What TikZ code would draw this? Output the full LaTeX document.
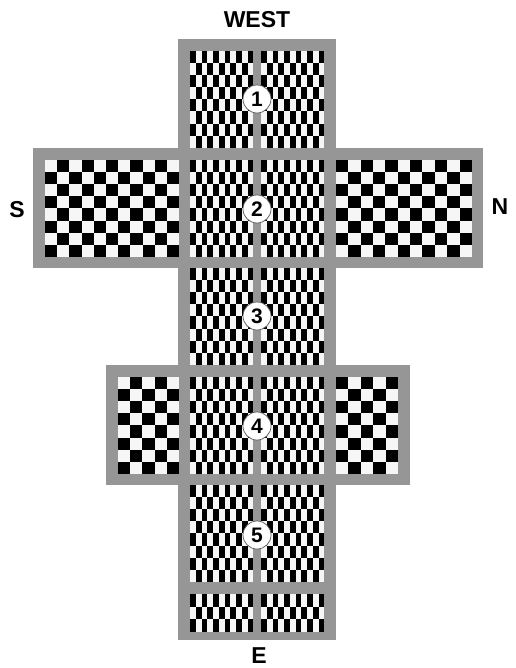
\documentclass[tikz,border=0pt]{standalone}
\usepackage{fontspec}
\setsansfont{Liberation Sans}
\usetikzlibrary{positioning}

\definecolor{framegray}{RGB}{150,150,150}
\definecolor{cellwhite}{RGB}{246,246,246}

% x0, y0, columns, rows, cell width, cell height, phase (0 = black first)
\newcommand{\checkerblock}[7]{%
  \fill[cellwhite] (#1,#2) rectangle ++(#3*#5,#4*#6);
  \foreach \i in {1,...,#3}{
    \foreach \j in {1,...,#4}{
      \pgfmathtruncatemacro\cellpar{mod(\i+\j+#7,2)}
      \ifnum\cellpar=0 \fill[black] (#1+\i*#5-#5,#2+\j*#6-#6) rectangle ++(#5,#6);\fi
    }}}

\begin{document}
\begin{tikzpicture}[
  x=1pt, y=-1pt,
  frame/.style={fill=framegray},
  num/.style={circle, draw=black!65, line width=0.7pt, fill=white,
    inner sep=0pt, minimum size=28pt, font=\sffamily\bfseries\fontsize{21}{21}\selectfont},
  dir/.style={inner sep=0pt, font=\sffamily\bfseries\fontsize{23}{23}\selectfont}
]
\useasboundingbox (0,0) rectangle (515,668);

% gray frames
\fill[frame] (178,39) rectangle (336,640);
\fill[frame] (33,148) rectangle (180,268);
\fill[frame] (334,148) rectangle (483,268);
\fill[frame] (106,365) rectangle (180,485);
\fill[frame] (334,365) rectangle (410,485);

% central column
\foreach \top in {51,160,268,377,485}{
  \checkerblock{190}{\top}{11}{8}{5.75}{12.1}{0}
  \checkerblock{261}{\top}{11}{8}{5.75}{12.1}{0}
}
\checkerblock{190}{594}{11}{3}{5.75}{12.5}{0}
\checkerblock{261}{594}{11}{3}{5.75}{12.5}{0}

% side wings
\checkerblock{45}{160}{11}{8}{12.2}{12.1}{1}
\checkerblock{336}{160}{11}{8}{12.35}{12.1}{0}
\checkerblock{118}{377}{5}{8}{12.2}{12.1}{1}
\checkerblock{336}{377}{5}{8}{12.4}{12.1}{0}

% numbered markers
\node[num] (m1) at (257,99) {1};
\node[num] (m2) at (257,209) {2};
\node[num] (m3) at (257,316) {3};
\node[num] (m4) at (257,426) {4};
\node[num] (m5) at (257,535) {5};

% directions
\node[dir] (west) at (257,20) {WEST};
\node[dir] (south) at (17,210) {S};
\node[dir] (north) at (500,207) {N};
\node[dir] (east) at (259,656) {E};
\end{tikzpicture}
\end{document}
